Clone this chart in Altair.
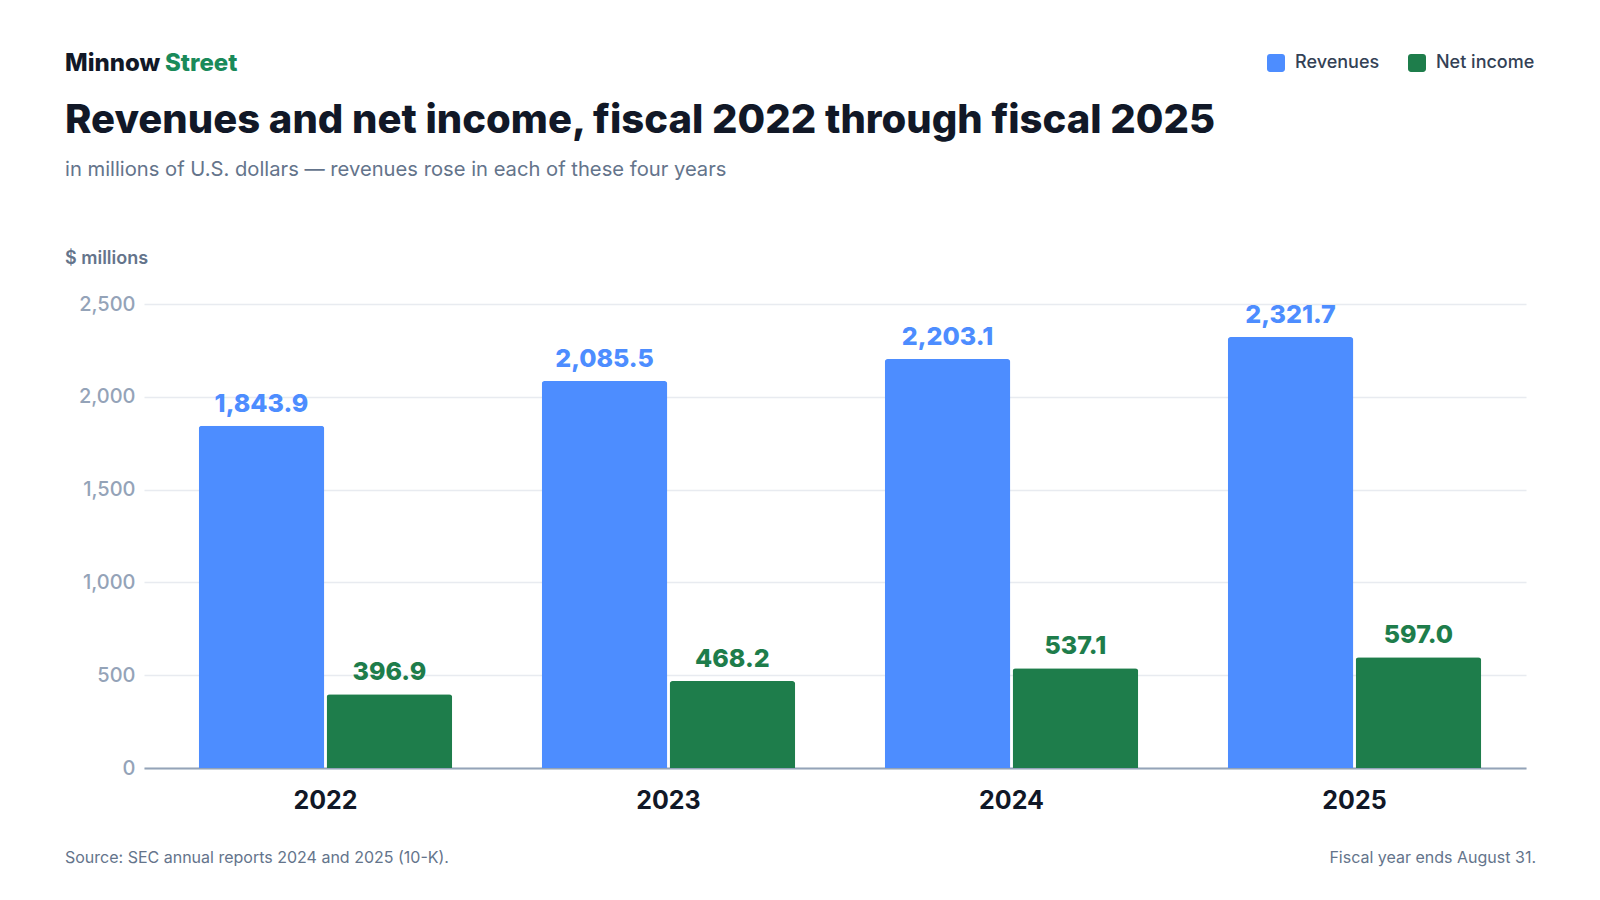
import pandas as pd
import altair as alt

# values
years = ["2022", "2023", "2024", "2025"]
revenues = [1843.9, 2085.5, 2203.1, 2321.7]
net_income = [396.9, 468.2, 537.1, 597.0]
series_names = ["Revenues", "Net income"]
series_colors = ["#4d8dff", "#1e7d4b"]
y_ticks = [0, 500, 1000, 1500, 2000, 2500]

df = pd.DataFrame({
    "year": years * 2,
    "series": [series_names[0]] * len(years) + [series_names[1]] * len(years),
    "value": revenues + net_income,
})

FONT = "Inter"
W, H = 1382, 464

# rounded square for the legend swatches
ROUNDED_SQUARE = ("M-0.67,-1H0.67A0.33,0.33 0 0 1 1,-0.67V0.67A0.33,0.33 0 0 1 0.67,1"
                  "H-0.67A0.33,0.33 0 0 1 -1,0.67V-0.67A0.33,0.33 0 0 1 -0.67,-1Z")

color = alt.Color(
    "series:N",
    scale=alt.Scale(domain=series_names, range=series_colors),
    legend=alt.Legend(
        title=None, orient="none", legendX=1123, legendY=-250, direction="horizontal",
        symbolType=ROUNDED_SQUARE, symbolSize=324, symbolStrokeWidth=0, symbolOpacity=1,
        labelFont=FONT, labelFontSize=18, labelFontWeight=500, labelColor="#334155",
        labelOffset=10, columnPadding=28, padding=0,
    ),
)

base = alt.Chart(df).encode(
    x=alt.X("year:N", title=None,
            scale=alt.Scale(paddingInner=0.261, paddingOuter=0.145, align=0.55),
            axis=alt.Axis(labelAngle=0, labelFont=FONT, labelFontSize=25, labelFontWeight=700,
                          labelColor="#111827", ticks=False, domainColor="#94a3b8", domainWidth=2,
                          labelPadding=40, labelBaseline="alphabetic", grid=False)),
    xOffset=alt.XOffset("series:N", sort=series_names,
                        scale=alt.Scale(domain=series_names, paddingInner=0.018)),
    y=alt.Y("value:Q", title=None,
            scale=alt.Scale(domain=[0, 2500], nice=False),
            axis=alt.Axis(values=y_ticks, format=",.0f", labelFont=FONT, labelFontSize=20,
                          labelFontWeight=500, labelColor="#94a3b8", labelPadding=9,
                          ticks=False, domain=False, gridColor="#e8ebf0", gridWidth=1.5)),
    color=color,
)

bars = base.mark_bar(cornerRadiusTopLeft=3, cornerRadiusTopRight=3)

# value labels above each bar
labels = base.mark_text(font=FONT, fontSize=25, fontWeight=800, baseline="alphabetic", dy=-14).encode(
    text=alt.Text("value:Q", format=",.1f")
)


def note(text, x, y, size, weight, colour, align="left"):
    return alt.Chart(pd.DataFrame({"t": [text]})).mark_text(
        font=FONT, fontSize=size, fontWeight=weight, color=colour, align=align, baseline="alphabetic"
    ).encode(x=alt.value(x), y=alt.value(y), text="t:N")


notes = [
    note("Minnow", -79, -233, 24, 800, "#111827"),
    note("Street", 21, -233, 24, 800, "#1a8a5a"),
    note("Revenues and net income, fiscal 2022 through fiscal 2025", -79, -171, 40, 800, "#111827"),
    note("in millions of U.S. dollars \u2014 revenues rose in each of these four years", -79, -128, 20.2, 400, "#64748b"),
    note("$ millions", -79, -40, 18, 600, "#64748b"),
    note("Source: SEC annual reports 2024 and 2025 (10-K).", -79, 559, 16, 400, "#64748b"),
    note("Fiscal year ends August 31.", 1392, 559, 16, 400, "#64748b", align="right"),
]

chart = alt.layer(bars, labels, *notes).properties(
    width=W,
    height=H,
    background="white",
    padding={"left": 136, "top": 296, "right": 66, "bottom": 124},
    autosize=alt.AutoSizeParams(type="none"),
).configure_view(stroke="transparent", strokeWidth=0)

chart.save("out.html", embed_options={"renderer": "svg", "actions": False})
